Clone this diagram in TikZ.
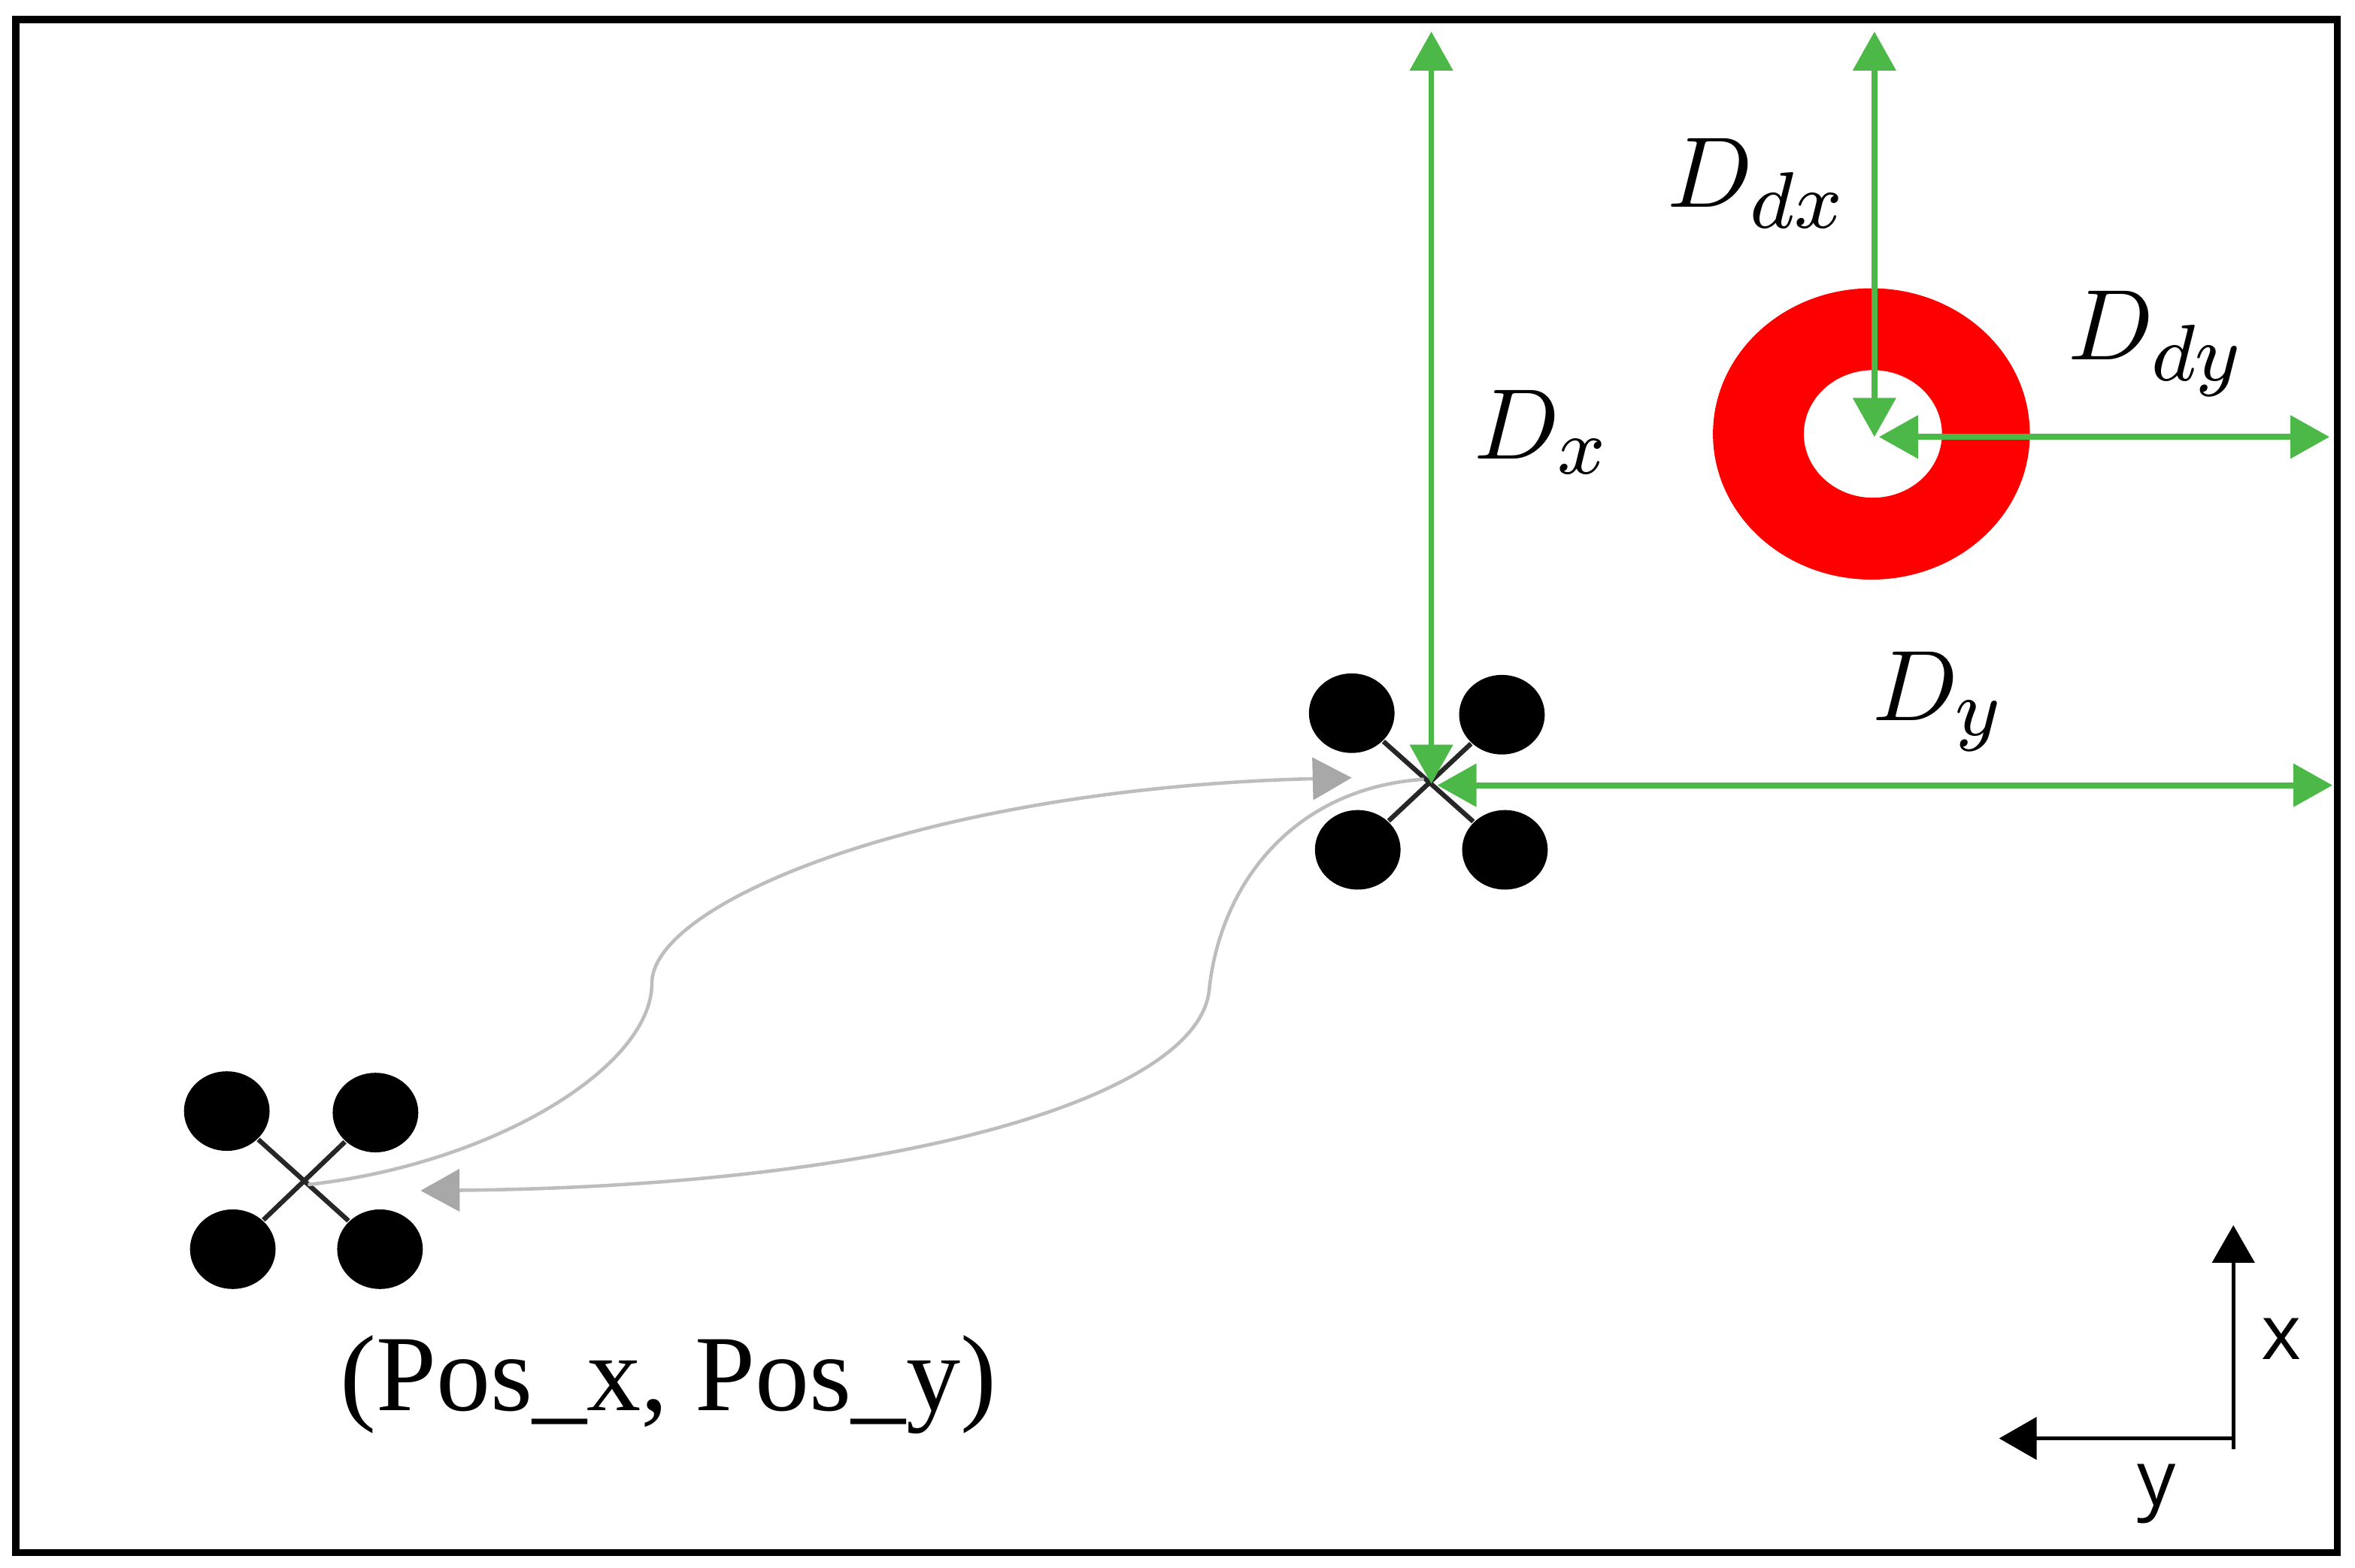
\documentclass[tikz,border=0pt]{standalone}
\usepackage{fontspec}
\usepackage{xcolor}
\usetikzlibrary{shapes.geometric}
\usetikzlibrary{arrows.meta}
\newfontfamily\axisfont{Open Sans}
\newfontfamily\posfont{Liberation Serif}
\DeclareMathSizes{10}{10}{8}{6}
\definecolor{greenish}{HTML}{4CB848}
\definecolor{greyish}{HTML}{BDBDBD}
\definecolor{tipgrey}{HTML}{A8A8A8}
\definecolor{redish}{HTML}{FF0000}
\tikzset{
    rotor/.style={ellipse,fill=black,inner sep=0pt,minimum width=0.57cm,minimum height=0.53cm},
    arm/.style={black!85,line width=0.9pt},
    dist/.style={greenish,line width=1.1pt,{Triangle[length=0.26cm,width=0.28cm]}-{Triangle[length=0.26cm,width=0.28cm]}},
    route/.style={greyish,line width=0.65pt,-{Triangle[length=0.26cm,width=0.28cm,color=tipgrey]}},
    axis/.style={black,line width=0.7pt,-{Triangle[length=0.25cm,width=0.28cm]}},
    lab/.style={inner sep=0pt,scale=1.9},
    axlab/.style={inner sep=0pt,font=\axisfont,scale=1.45}
}
\begin{document}
\begin{tikzpicture}[scale=1]
        \useasboundingbox (0,0) rectangle (15.68,10.44);
        \draw[line width=1.3pt] (0.105,0.10) rectangle (15.56,10.31);
        \fill[redish,even odd rule] (12.46,7.55) ellipse (1.055 and 0.97) (12.47,7.55) ellipse (0.46 and 0.425);
        \node[rotor] (a1) at (1.51,3.04) {};
        \node[rotor] (a2) at (2.50,3.03) {};
        \node[rotor] (a3) at (1.55,2.12) {};
        \node[rotor] (a4) at (2.53,2.12) {};
        \draw[arm] (a1) -- (a4);
        \draw[arm] (a2) -- (a3);
        \node[rotor] (b1) at (9.00,5.69) {};
        \node[rotor] (b2) at (10.00,5.68) {};
        \node[rotor] (b3) at (9.04,4.78) {};
        \node[rotor] (b4) at (10.02,4.78) {};
        \draw[arm] (b1) -- (b4);
        \draw[arm] (b2) -- (b3);
        \coordinate (startA) at (2.05,2.55);
        \coordinate (midA) at (4.34,3.89);
        \coordinate (endA) at (9.00,5.26);
        \coordinate (startB) at (9.48,5.25);
        \coordinate (midB) at (8.05,3.84);
        \coordinate (endB) at (2.80,2.51);
        \draw[route] (startA) .. controls (3.30,2.69) and (4.34,3.34) .. (midA) .. controls (4.34,4.44) and (6.20,5.19) .. (endA);
        \draw[route] (startB) .. controls (8.60,5.19) and (8.12,4.54) .. (midB) .. controls (7.97,3.14) and (6.00,2.54) .. (endB);
        \coordinate (topA) at (9.53,10.23);
        \coordinate (droneA) at (9.53,5.22);
        \coordinate (topB) at (12.48,10.23);
        \coordinate (ringB) at (12.48,7.53);
        \coordinate (ringC) at (12.51,7.53);
        \coordinate (edgeC) at (15.51,7.53);
        \coordinate (droneD) at (9.57,5.21);
        \coordinate (edgeD) at (15.53,5.21);
        \draw[dist] (topA) -- (droneA);
        \draw[dist] (topB) -- (ringB);
        \draw[dist] (ringC) -- (edgeC);
        \draw[dist] (droneD) -- (edgeD);
        \coordinate (corner) at (14.87,0.86);
        \coordinate (axisX) at (14.87,2.28);
        \coordinate (axisY) at (13.31,0.86);
        \coordinate (tail) at (14.87,0.79);
        \draw[axis] (tail) -- (axisX);
        \draw[axis] (corner) -- (axisY);
        \node[lab] (dx) at (10.27,7.56) {$D_x$};
        \node[lab] (ddx) at (11.70,9.22) {$D_{dx}$};
        \node[lab] (ddy) at (14.36,8.15) {$D_{dy}$};
        \node[lab] (dy) at (12.91,5.77) {$D_y$};
        \node[lab,font=\posfont,scale=1.08] (pos) at (4.45,1.22) {(Pos\_x, Pos\_y)};
        \node[axlab] (xlab) at (15.19,1.52) {x};
        \node[axlab] (ylab) at (14.36,0.49) {y};
    \end{tikzpicture}
\end{document}
